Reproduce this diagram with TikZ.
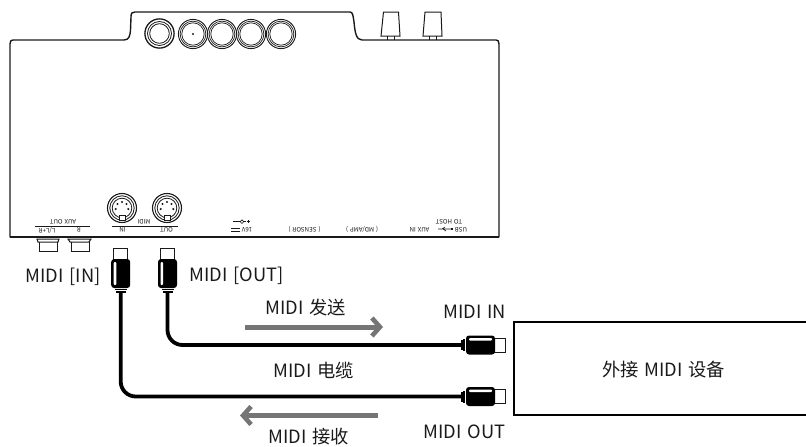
\documentclass[tikz,border=0pt]{standalone}
\usepackage{fontspec}
\setmainfont[WordSpace=1.4]{Noto Sans CJK SC}
\usetikzlibrary{arrows.meta}
\definecolor{ink}{HTML}{1A1A1A}
\definecolor{arrowgray}{HTML}{757575}
\tikzset{
  x=1pt,y=-1pt,
  label text/.style={inner sep=0pt,font=\fontsize{18.3}{21}\selectfont,text=ink},
  tiny flip/.style={inner sep=0pt,rotate=180,font=\fontsize{6.2}{7}\selectfont,text=ink},
  outline/.style={draw=ink,line width=1.4pt},
  thin part/.style={draw=ink,line width=1pt},
  cable/.style={draw=black,line width=3.8pt,rounded corners=15pt},
  flow/.style={draw=arrowgray,line width=5pt},
  flow tip/.style={-{Straight Barb[length=8pt,width=18pt,line width=4.6pt]}},
}
\newcommand{\knobrings}[1]{%
  \draw[thin part,line width=0.9pt] (#1) circle (14.6);
  \draw[thin part,line width=0.7pt] (#1) circle (12.9);
  \draw[thin part,line width=0.7pt] (#1) circle (11.2);
}
\newcommand{\midisock}[1]{%
  \begin{scope}[shift={(#1)}]
    \draw[thin part,line width=1.1pt] (0,0) circle (14.5);
    \draw[thin part,line width=0.8pt] (0,0) circle (12.2);
    \draw[thin part,line width=0.8pt] (0,0) circle (9.8);
    \fill[ink] (-6.3,1) circle (1.2) (6.3,1) circle (1.2) (-4.5,-4) circle (1.2) (4.5,-4) circle (1.2) (0,-6) circle (1.2);
    \draw[thin part,line width=0.7pt,fill=white] (-3,7) rectangle (3,12);
  \end{scope}}
\newcommand{\vplug}[1]{%
  \begin{scope}[shift={(#1,0)}]
    \draw[thin part,fill=white] (-7,248) rectangle (7,260);
    \fill[black,rounded corners=3pt] (-9.5,259) rectangle (9.5,288);
    \fill[white,rounded corners=1pt] (-7,262) rectangle (-4.4,285);
    \fill[black] (-6,288.5) rectangle (6,290.2);
    \fill[black] (-5,291) rectangle (5,292.8);
  \end{scope}}
\newcommand{\hplug}[1]{%
  \begin{scope}[shift={(0,#1)}]
    \draw[thin part,fill=white] (494,-7) rectangle (505,7);
    \fill[black,rounded corners=3pt] (466,-9.5) rectangle (495,9.5);
    \fill[white,rounded corners=1pt] (469,-7) rectangle (492,-4.4);
    \fill[black] (463.3,-6) rectangle (465,6);
    \fill[black] (460.5,-5) rectangle (462.5,5);
  \end{scope}}
\begin{document}
\begin{tikzpicture}
\useasboundingbox (0,0) rectangle (806,447);
% body
\draw[outline,line join=round] (10,237) -- (10,44) .. controls (10,41) and (11,40) .. (13,40)
  -- (124,40) .. controls (129,40) and (130,36) .. (130.5,30)
  -- (131,17) .. controls (131,13) and (132,12) .. (135,12) -- (350,12)
  .. controls (353,12) and (353,16) .. (354,22) .. controls (355,32) and (356,40) .. (362,40)
  -- (496,40) .. controls (498,40) and (499,41) .. (499,44) -- (499,237) -- cycle;
\draw[draw=ink,line width=1.9pt] (10,237) -- (499,237);
% knobs
\coordinate (k1) at (159.5,33.5);
\draw[thin part,line width=1.3pt] (k1) circle (14.6);
\draw[thin part,line width=0.8pt] (k1) circle (12);
\draw[thin part,line width=0.8pt] (k1) circle (9.8);
\foreach \n/\x in {k2/193,k3/222,k4/251,k5/281}{
  \coordinate (\n) at (\x,34);
  \knobrings{\n}
}
\fill[ink] (k2) circle (1.2);
% top right sockets
\draw[thin part,fill=white] (383.5,12) -- (398.5,12) -- (400,36) -- (381,36) -- cycle;
\draw[thin part] (387.5,36) -- (387.5,40) (394,36) -- (394,40);
\draw[thin part,fill=white] (425,12) -- (441,12) -- (442,36) -- (423,36) -- cycle;
\draw[thin part] (429.5,36) -- (429.5,40) (436,36) -- (436,40);
% midi
\midisock{122,208}
\midisock{167,208}
\draw[thin part,line width=0.8pt] (35,226) -- (90,226) (112,226) -- (178,226);
\node[tiny flip] (lMidi) at (144,222) {MIDI};
\node[tiny flip] (lIn) at (122.5,230) {IN};
\node[tiny flip] (lOut) at (166.5,230) {OUT};
\node[tiny flip] (lAux) at (63,222) {AUX OUT};
\node[tiny flip] (lLR) at (47,230) {L/L+R};
\node[tiny flip] (lR) at (79,230) {R};
\node[tiny flip] (l16) at (247,229.5) {16V};
\node[tiny flip] (lSen) at (304.5,229.5) {( SENSOR )};
\node[tiny flip] (lMp) at (362,229.5) {( MD/AMP )};
\node[tiny flip] (lAuxIn) at (419.5,229.5) {AUX IN};
\node[tiny flip] (lUsb) at (461,229.5) {USB};
\node[tiny flip] (lHost) at (449,222) {TO HOST};
% power and usb symbols
\draw[ink,line width=0.8pt] (231,228.5) -- (240,228.5) (231,231) -- (240,231);
\draw[ink,line width=0.6pt] (233,221.7) -- (246,221.7) (247,221.7) -- (250,221.7) (248.5,220.2) -- (248.5,223.2);
\draw[ink,line width=0.6pt,fill=white] (242,221.7) circle (1.8);
\draw[ink,line width=0.6pt] (438,229) -- (451,229) (442,229) -- (445,227) (443,229) -- (446,231);
\fill[ink] (451,228) rectangle (453,230);
% jacks
\draw[thin part] (37,239) -- (59,239) -- (58,242) -- (38,242) -- cycle;
\draw[thin part] (39,242) -- (39,251) -- (57,251) -- (57,242);
\draw[thin part] (68,239) -- (91,239) -- (89,242) -- (70,242) -- cycle;
\draw[thin part] (71,242) -- (71,251) -- (89,251) -- (89,242);
% plugs
\vplug{120.7}
\vplug{167.5}
\hplug{345}
\hplug{396.5}
\coordinate (cIn) at (120.7,292);
\coordinate (cOut) at (167.5,292);
\coordinate (cOutEnd) at (462,345);
\coordinate (cInEnd) at (462,396.5);
\draw[cable] (cOut) |- (cOutEnd);
\draw[cable] (cIn) |- (cInEnd);
% device box
\node[draw=black,line width=1.6pt,minimum width=310pt,minimum height=93pt,inner sep=0pt,anchor=north west] (device) at (513,321) {};
\node[label text] (devlabel) at (663.5,370) {外接 MIDI 设备};
% flow arrows
\coordinate (fa) at (245,327);
\coordinate (fb) at (383,327);
\coordinate (fc) at (378,415.5);
\coordinate (fd) at (240,415.5);
\draw[flow,flow tip] (fa) -- (fb);
\draw[flow,flow tip] (fc) -- (fd);
% labels
\node[label text] (t1) at (63,277) {MIDI [IN]};
\node[label text] (t2) at (236.5,276) {MIDI [OUT]};
\node[label text] (t3) at (305.5,308) {MIDI 发送};
\node[label text] (t4) at (313.5,371) {MIDI 电缆};
\node[label text] (t5) at (309,436.5) {MIDI 接收};
\node[label text] (t6) at (474.5,312) {MIDI IN};
\node[label text] (t7) at (464.5,432) {MIDI OUT};
\end{tikzpicture}
\end{document}
